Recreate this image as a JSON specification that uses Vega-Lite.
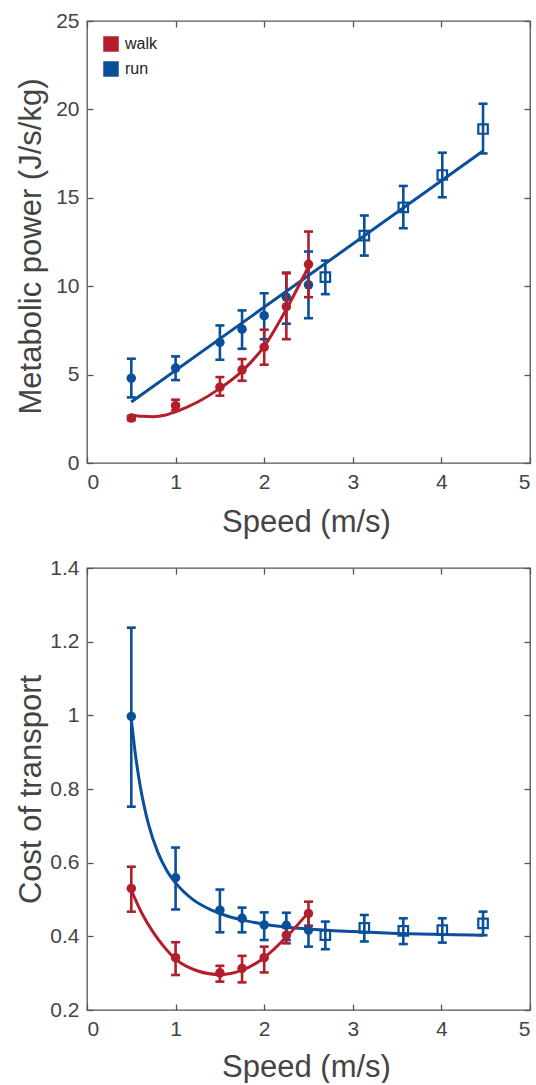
{
  "$schema": "https://vega.github.io/schema/vega-lite/v6.json",
  "padding": {"left": 14, "top": 9, "right": 0, "bottom": 0},
  "spacing": 18,
  "background": "white",
  "config": {
    "font": "Liberation Sans",
    "view": {"stroke": "#555555", "strokeWidth": 1.3},
    "tick": {"opacity": 1},
    "axis": {
      "domain": false, "grid": false,
      "tickColor": "#555555", "tickWidth": 1.3, "tickSize": -6,
      "labelFont": "Liberation Sans", "labelFontSize": 21, "labelColor": "#444444", "labelPadding": 14,
      "titleFont": "Liberation Sans", "titleFontSize": 31, "titleFontWeight": "normal", "titleColor": "#444444"
    }
  },
  "datasets": {
    "topPts": [
      {"gait": "run", "speed": 0.5, "value": 4.8, "lo": 3.71, "hi": 5.9, "shape": "circle"},
      {"gait": "run", "speed": 1.0, "value": 5.37, "lo": 4.69, "hi": 6.03, "shape": "circle"},
      {"gait": "run", "speed": 1.5, "value": 6.82, "lo": 5.84, "hi": 7.78, "shape": "circle"},
      {"gait": "run", "speed": 1.75, "value": 7.57, "lo": 6.46, "hi": 8.63, "shape": "circle"},
      {"gait": "run", "speed": 2.0, "value": 8.33, "lo": 7.0, "hi": 9.6, "shape": "circle"},
      {"gait": "run", "speed": 2.25, "value": 9.38, "lo": 7.88, "hi": 10.77, "shape": "circle"},
      {"gait": "run", "speed": 2.5, "value": 10.08, "lo": 8.19, "hi": 11.96, "shape": "circle"},
      {"gait": "run", "speed": 2.69, "value": 10.51, "lo": 9.55, "hi": 11.45, "shape": "square"},
      {"gait": "run", "speed": 3.13, "value": 12.86, "lo": 11.73, "hi": 14.0, "shape": "square"},
      {"gait": "run", "speed": 3.57, "value": 14.46, "lo": 13.28, "hi": 15.67, "shape": "square"},
      {"gait": "run", "speed": 4.01, "value": 16.29, "lo": 15.03, "hi": 17.55, "shape": "square"},
      {"gait": "run", "speed": 4.47, "value": 18.89, "lo": 17.51, "hi": 20.32, "shape": "square"},
      {"gait": "walk", "speed": 0.5, "value": 2.54, "lo": 2.42, "hi": 2.66, "shape": "circle"},
      {"gait": "walk", "speed": 1.0, "value": 3.24, "lo": 2.98, "hi": 3.58, "shape": "circle"},
      {"gait": "walk", "speed": 1.5, "value": 4.29, "lo": 3.81, "hi": 4.86, "shape": "circle"},
      {"gait": "walk", "speed": 1.75, "value": 5.27, "lo": 4.65, "hi": 5.88, "shape": "circle"},
      {"gait": "walk", "speed": 2.0, "value": 6.55, "lo": 5.56, "hi": 7.54, "shape": "circle"},
      {"gait": "walk", "speed": 2.25, "value": 8.84, "lo": 7.0, "hi": 10.73, "shape": "circle"},
      {"gait": "walk", "speed": 2.5, "value": 11.24, "lo": 9.38, "hi": 13.09, "shape": "circle"}
    ],
    "topFit": [
      {"gait": "run", "speed": 0.5, "value": 3.45},
      {"gait": "run", "speed": 4.47, "value": 17.65},
      {"gait": "walk", "speed": 0.5, "value": 2.72},
      {"gait": "walk", "speed": 0.625, "value": 2.64},
      {"gait": "walk", "speed": 0.75, "value": 2.62},
      {"gait": "walk", "speed": 0.875, "value": 2.7},
      {"gait": "walk", "speed": 1.0, "value": 2.9},
      {"gait": "walk", "speed": 1.25, "value": 3.45},
      {"gait": "walk", "speed": 1.5, "value": 4.22},
      {"gait": "walk", "speed": 1.75, "value": 5.2},
      {"gait": "walk", "speed": 2.0, "value": 6.6},
      {"gait": "walk", "speed": 2.25, "value": 8.7},
      {"gait": "walk", "speed": 2.5, "value": 11.1}
    ],
    "botPts": [
      {"gait": "run", "speed": 0.5, "value": 0.997, "lo": 0.752, "hi": 1.238, "shape": "circle"},
      {"gait": "run", "speed": 1.0, "value": 0.559, "lo": 0.473, "hi": 0.641, "shape": "circle"},
      {"gait": "run", "speed": 1.5, "value": 0.471, "lo": 0.411, "hi": 0.527, "shape": "circle"},
      {"gait": "run", "speed": 1.75, "value": 0.449, "lo": 0.411, "hi": 0.478, "shape": "circle"},
      {"gait": "run", "speed": 2.0, "value": 0.431, "lo": 0.39, "hi": 0.465, "shape": "circle"},
      {"gait": "run", "speed": 2.25, "value": 0.43, "lo": 0.39, "hi": 0.464, "shape": "circle"},
      {"gait": "run", "speed": 2.5, "value": 0.417, "lo": 0.372, "hi": 0.462, "shape": "circle"},
      {"gait": "run", "speed": 2.69, "value": 0.403, "lo": 0.365, "hi": 0.44, "shape": "square"},
      {"gait": "run", "speed": 3.13, "value": 0.423, "lo": 0.386, "hi": 0.458, "shape": "square"},
      {"gait": "run", "speed": 3.57, "value": 0.415, "lo": 0.379, "hi": 0.449, "shape": "square"},
      {"gait": "run", "speed": 4.01, "value": 0.417, "lo": 0.383, "hi": 0.449, "shape": "square"},
      {"gait": "run", "speed": 4.47, "value": 0.435, "lo": 0.403, "hi": 0.467, "shape": "square"},
      {"gait": "walk", "speed": 0.5, "value": 0.53, "lo": 0.467, "hi": 0.589, "shape": "circle"},
      {"gait": "walk", "speed": 1.0, "value": 0.342, "lo": 0.295, "hi": 0.384, "shape": "circle"},
      {"gait": "walk", "speed": 1.5, "value": 0.301, "lo": 0.277, "hi": 0.32, "shape": "circle"},
      {"gait": "walk", "speed": 1.75, "value": 0.313, "lo": 0.275, "hi": 0.347, "shape": "circle"},
      {"gait": "walk", "speed": 2.0, "value": 0.342, "lo": 0.302, "hi": 0.372, "shape": "circle"},
      {"gait": "walk", "speed": 2.25, "value": 0.403, "lo": 0.381, "hi": 0.424, "shape": "circle"},
      {"gait": "walk", "speed": 2.5, "value": 0.462, "lo": 0.429, "hi": 0.494, "shape": "circle"}
    ],
    "botFit": [
      {"gait": "run", "speed": 0.5, "value": 0.99},
      {"gait": "run", "speed": 0.55, "value": 0.887},
      {"gait": "run", "speed": 0.6, "value": 0.809},
      {"gait": "run", "speed": 0.65, "value": 0.748},
      {"gait": "run", "speed": 0.7, "value": 0.699},
      {"gait": "run", "speed": 0.8, "value": 0.628},
      {"gait": "run", "speed": 0.9, "value": 0.579},
      {"gait": "run", "speed": 1.0, "value": 0.545},
      {"gait": "run", "speed": 1.2, "value": 0.499},
      {"gait": "run", "speed": 1.4, "value": 0.472},
      {"gait": "run", "speed": 1.6, "value": 0.454},
      {"gait": "run", "speed": 1.8, "value": 0.442},
      {"gait": "run", "speed": 2.0, "value": 0.433},
      {"gait": "run", "speed": 2.5, "value": 0.42},
      {"gait": "run", "speed": 3.0, "value": 0.413},
      {"gait": "run", "speed": 3.5, "value": 0.408},
      {"gait": "run", "speed": 4.0, "value": 0.405},
      {"gait": "run", "speed": 4.47, "value": 0.403},
      {"gait": "walk", "speed": 0.5, "value": 0.525},
      {"gait": "walk", "speed": 0.625, "value": 0.46},
      {"gait": "walk", "speed": 0.75, "value": 0.41},
      {"gait": "walk", "speed": 0.875, "value": 0.37},
      {"gait": "walk", "speed": 1.0, "value": 0.338},
      {"gait": "walk", "speed": 1.25, "value": 0.306},
      {"gait": "walk", "speed": 1.5, "value": 0.296},
      {"gait": "walk", "speed": 1.75, "value": 0.308},
      {"gait": "walk", "speed": 2.0, "value": 0.342},
      {"gait": "walk", "speed": 2.25, "value": 0.398},
      {"gait": "walk", "speed": 2.5, "value": 0.465}
    ]
  },
  "resolve": {"scale": {"color": "independent"}},
  "vconcat": [
    {
      "width": 443, "height": 442,
      "resolve": {"axis": {"x": "independent", "y": "independent"}},
      "layer": [
        {
          "data": {"name": "topPts"},
          "transform": [{"filter": "datum.shape === 'circle'"}],
          "mark": {"type": "point", "shape": "circle", "filled": true, "opacity": 1, "size": 90},
          "encoding": {
            "x": {"field": "speed", "type": "quantitative", "scale": {"domain": [0, 5], "nice": false},
                  "axis": {"values": [0, 1, 2, 3, 4, 5], "title": "Speed (m/s)", "titleX": 219, "titleY": 59, "titleBaseline": "middle", "titleAlign": "center"}},
            "y": {"field": "value", "type": "quantitative", "scale": {"domain": [0, 25], "nice": false},
                  "axis": {"values": [0, 5, 10, 15, 20, 25], "title": "Metabolic power (J/s/kg)", "titleX": -56, "titleY": 225, "titleBaseline": "middle", "titleAlign": "center", "titleAngle": -90}},
            "color": {"field": "gait", "type": "nominal", "scale": {"domain": ["walk", "run"], "range": ["#b31e2a", "#0a4f9a"]},
                      "legend": {"orient": "none", "legendX": 16, "legendY": 15, "title": null, "symbolType": "square", "symbolSize": 240, "symbolStrokeWidth": 0, "labelFontSize": 16, "labelColor": "#222222", "labelFont": "Liberation Sans", "rowPadding": 9, "labelOffset": 6, "padding": 0}}
          }
        },
        {
          "data": {"name": "topPts"},
          "mark": {"type": "rule", "strokeWidth": 2.6},
          "encoding": {
            "x": {"field": "speed", "type": "quantitative", "axis": null},
            "y": {"field": "lo", "type": "quantitative", "axis": null},
            "y2": {"field": "hi"},
            "color": {"field": "gait", "type": "nominal"}
          }
        },
        {
          "data": {"name": "topPts"},
          "mark": {"type": "tick", "orient": "horizontal", "size": 9, "thickness": 2.6, "opacity": 1},
          "encoding": {
            "x": {"field": "speed", "type": "quantitative", "axis": null},
            "y": {"field": "hi", "type": "quantitative", "axis": null},
            "color": {"field": "gait", "type": "nominal"}
          }
        },
        {
          "data": {"name": "topPts"},
          "mark": {"type": "tick", "orient": "horizontal", "size": 9, "thickness": 2.6, "opacity": 1},
          "encoding": {
            "x": {"field": "speed", "type": "quantitative", "axis": null},
            "y": {"field": "lo", "type": "quantitative", "axis": null},
            "color": {"field": "gait", "type": "nominal"}
          }
        },
        {
          "data": {"name": "topFit"},
          "mark": {"type": "line", "strokeWidth": 3, "interpolate": "monotone"},
          "encoding": {
            "x": {"field": "speed", "type": "quantitative", "axis": {"orient": "top", "values": [0, 1, 2, 3, 4, 5], "labels": false, "title": null}},
            "y": {"field": "value", "type": "quantitative", "axis": {"orient": "right", "values": [0, 5, 10, 15, 20, 25], "labels": false, "title": null}},
            "color": {"field": "gait", "type": "nominal"}
          }
        },
        {
          "data": {"name": "topPts"},
          "transform": [{"filter": "datum.shape === 'square'"}],
          "mark": {"type": "point", "shape": "square", "filled": false, "opacity": 1, "size": 90, "strokeWidth": 2.2},
          "encoding": {
            "x": {"field": "speed", "type": "quantitative", "axis": null},
            "y": {"field": "value", "type": "quantitative", "axis": null},
            "color": {"field": "gait", "type": "nominal"}
          }
        }
      ]
    },
    {
      "width": 443, "height": 442,
      "resolve": {"axis": {"x": "independent", "y": "independent"}},
      "layer": [
        {
          "data": {"name": "botPts"},
          "mark": {"type": "rule", "strokeWidth": 2.6},
          "encoding": {
            "x": {"field": "speed", "type": "quantitative", "scale": {"domain": [0, 5], "nice": false},
                  "axis": {"values": [0, 1, 2, 3, 4, 5], "title": "Speed (m/s)", "titleX": 219, "titleY": 57, "titleBaseline": "middle", "titleAlign": "center"}},
            "y": {"field": "lo", "type": "quantitative", "scale": {"domain": [0.2, 1.4], "nice": false, "zero": false},
                  "axis": {"values": [0.2, 0.4, 0.6, 0.8, 1, 1.2, 1.4], "format": "~g", "title": "Cost of transport", "titleX": -56, "titleY": 221, "titleBaseline": "middle", "titleAlign": "center", "titleAngle": -90}},
            "y2": {"field": "hi"},
            "color": {"field": "gait", "type": "nominal", "scale": {"domain": ["walk", "run"], "range": ["#b31e2a", "#0a4f9a"]}, "legend": null}
          }
        },
        {
          "data": {"name": "botPts"},
          "mark": {"type": "tick", "orient": "horizontal", "size": 9, "thickness": 2.6, "opacity": 1},
          "encoding": {
            "x": {"field": "speed", "type": "quantitative", "axis": null},
            "y": {"field": "hi", "type": "quantitative", "axis": null},
            "color": {"field": "gait", "type": "nominal", "legend": null}
          }
        },
        {
          "data": {"name": "botPts"},
          "mark": {"type": "tick", "orient": "horizontal", "size": 9, "thickness": 2.6, "opacity": 1},
          "encoding": {
            "x": {"field": "speed", "type": "quantitative", "axis": null},
            "y": {"field": "lo", "type": "quantitative", "axis": null},
            "color": {"field": "gait", "type": "nominal", "legend": null}
          }
        },
        {
          "data": {"name": "botFit"},
          "mark": {"type": "line", "strokeWidth": 3, "interpolate": "monotone"},
          "encoding": {
            "x": {"field": "speed", "type": "quantitative", "axis": {"orient": "top", "values": [0, 1, 2, 3, 4, 5], "labels": false, "title": null}},
            "y": {"field": "value", "type": "quantitative", "axis": {"orient": "right", "values": [0.2, 0.4, 0.6, 0.8, 1, 1.2, 1.4], "labels": false, "title": null}},
            "color": {"field": "gait", "type": "nominal", "legend": null}
          }
        },
        {
          "data": {"name": "botPts"},
          "transform": [{"filter": "datum.shape === 'circle'"}],
          "mark": {"type": "point", "shape": "circle", "filled": true, "opacity": 1, "size": 90},
          "encoding": {
            "x": {"field": "speed", "type": "quantitative", "axis": null},
            "y": {"field": "value", "type": "quantitative", "axis": null},
            "color": {"field": "gait", "type": "nominal", "legend": null}
          }
        },
        {
          "data": {"name": "botPts"},
          "transform": [{"filter": "datum.shape === 'square'"}],
          "mark": {"type": "point", "shape": "square", "filled": false, "opacity": 1, "size": 90, "strokeWidth": 2.2},
          "encoding": {
            "x": {"field": "speed", "type": "quantitative", "axis": null},
            "y": {"field": "value", "type": "quantitative", "axis": null},
            "color": {"field": "gait", "type": "nominal", "legend": null}
          }
        }
      ]
    }
  ]
}
